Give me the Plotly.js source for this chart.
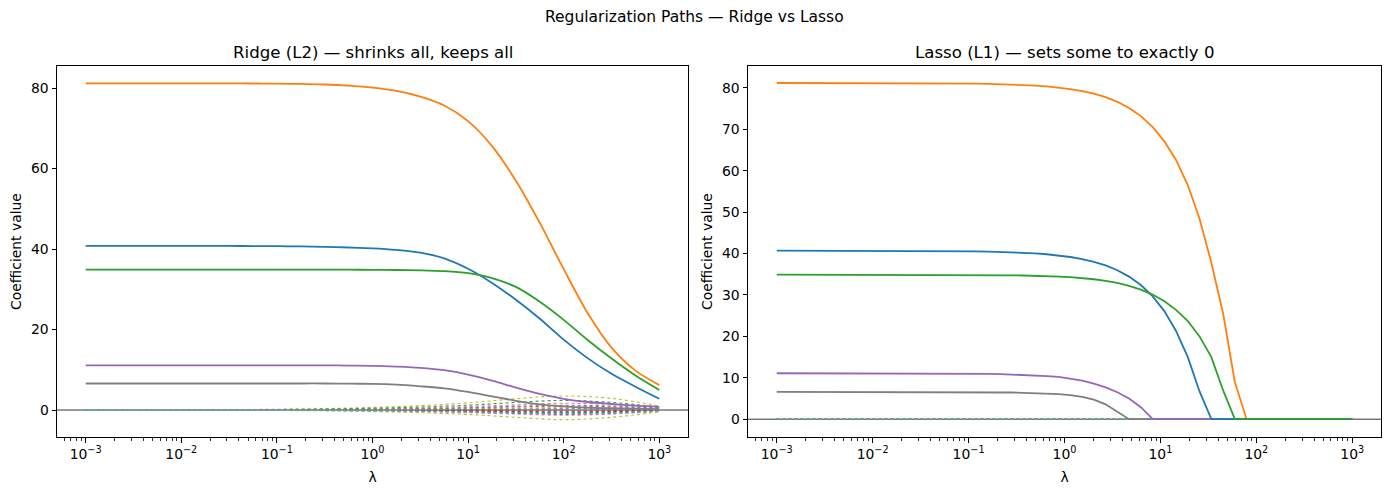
<!DOCTYPE html>
<html>
<head>
<meta charset="utf-8">
<script src="https://cdn.plot.ly/plotly-3.0.1.min.js"></script>
<style>html,body{margin:0;padding:0;background:#fff;}#chart{width:1389px;height:494px;}</style>
</head>
<body>
<div id="chart"></div>
<script>
// ---------- DATA ----------
// Ridge: log10(lambda) grid for the informative coefficient paths
const ridgeExp = [-3,-2.75,-2.5,-2.25,-2,-1.75,-1.5,-1.25,-1,-0.75,-0.5,-0.25,0,0.25,0.5,0.75,1,1.25,1.5,1.75,2,2.25,2.5,2.75,3];
const ridgeF0 = [40.8,40.8,40.8,40.8,40.8,40.79,40.78,40.76,40.72,40.65,40.55,40.4,40.2,39.8,39.1,37.7,35.1,31.6,27.4,22.7,17.5,12.9,9.0,5.8,2.8];
const ridgeF1 = [81.2,81.2,81.2,81.2,81.2,81.2,81.2,81.15,81.1,81.05,80.9,80.6,80.1,79.3,77.9,75.7,71.8,65.6,57.0,46.5,35.0,24.1,15.5,9.8,6.2];
const ridgeF2 = [34.9,34.9,34.9,34.9,34.9,34.9,34.9,34.9,34.9,34.9,34.9,34.88,34.85,34.8,34.7,34.5,34.0,32.8,30.6,26.9,22.4,17.4,12.8,8.6,5.0];
const ridgeF4 = [11.1,11.1,11.1,11.1,11.1,11.1,11.1,11.1,11.1,11.1,11.1,11.05,11.0,10.8,10.5,9.9,8.8,7.3,5.6,4.0,2.8,2.0,1.5,1.1,0.8];
const ridgeF7 = [6.6,6.6,6.6,6.6,6.6,6.6,6.6,6.6,6.6,6.6,6.6,6.55,6.5,6.3,5.9,5.4,4.5,3.4,2.3,1.4,0.9,0.6,0.45,0.35,0.25];

// Ridge: coarser log10(lambda) grid for the non-informative (dotted) coefficients
const ridgeNoiseExp = [-3,-2.5,-2,-1.5,-1,-0.5,0,0.5,1,1.5,2,2.5,3];
const ridgeF3  = [0,0,-0.01,-0.01,-0.02,-0.03,-0.05,-0.09,-0.15,-0.24,-0.3,-0.22,-0.05];
const ridgeF5  = [-0.01,-0.01,-0.02,-0.03,-0.06,-0.11,-0.2,-0.33,-0.55,-0.86,-1.1,-0.85,-0.25];
const ridgeF6  = [0.02,0.02,0.03,0.05,0.1,0.17,0.3,0.5,0.85,1.3,1.7,1.4,0.6];
const ridgeF8  = [0.03,0.04,0.06,0.1,0.2,0.36,0.65,1.1,1.8,2.8,3.5,2.9,1.0];
const ridgeF9  = [0,-0.01,-0.01,-0.02,-0.04,-0.06,-0.11,-0.18,-0.3,-0.47,-0.6,-0.45,-0.12];
const ridgeF10 = [0,0,0.01,0.01,0.02,0.03,0.05,0.09,0.15,0.23,0.3,0.28,0.15];
const ridgeF11 = [0,0.01,0.01,0.02,0.04,0.06,0.11,0.18,0.3,0.46,0.58,0.5,0.25];
const ridgeF12 = [0.02,0.03,0.04,0.07,0.14,0.25,0.45,0.75,1.2,1.9,2.4,1.9,0.7];
const ridgeF13 = [0,-0.01,-0.01,-0.02,-0.03,-0.05,-0.09,-0.15,-0.25,-0.4,-0.5,-0.35,-0.1];
const ridgeF14 = [0.01,0.01,0.02,0.04,0.07,0.12,0.22,0.36,0.6,0.95,1.2,1.0,0.45];
const ridgeF15 = [-0.01,-0.01,-0.02,-0.03,-0.05,-0.08,-0.14,-0.24,-0.4,-0.63,-0.8,-0.6,-0.15];
const ridgeF16 = [-0.01,-0.01,-0.02,-0.04,-0.08,-0.13,-0.23,-0.39,-0.65,-1.0,-1.3,-1.0,-0.3];
const ridgeF17 = [0.01,0.01,0.02,0.03,0.06,0.1,0.18,0.3,0.5,0.78,0.95,0.8,0.35];
const ridgeF18 = [-0.02,-0.02,-0.04,-0.06,-0.12,-0.2,-0.38,-0.65,-1.1,-1.8,-2.4,-1.8,-0.45];
const ridgeF19 = [-0.01,-0.01,-0.02,-0.03,-0.05,-0.09,-0.16,-0.27,-0.45,-0.7,-0.9,-0.7,-0.2];

// Lasso: log10(lambda) grid (50 points)
const lassoExp = [-3.000,-2.878,-2.755,-2.633,-2.510,-2.388,-2.265,-2.143,-2.020,-1.898,
                  -1.776,-1.653,-1.531,-1.408,-1.286,-1.163,-1.041,-0.918,-0.796,-0.673,
                  -0.551,-0.429,-0.306,-0.184,-0.061,0.061,0.184,0.306,0.429,0.551,
                  0.673,0.796,0.918,1.041,1.163,1.286,1.408,1.531,1.653,1.776,
                  1.898,2.020,2.143,2.265,2.388,2.510,2.633,2.755,2.878,3.000];
const lassoF0 = [40.7,40.7,40.7,40.7,40.7,40.7,40.7,40.7,40.7,40.7,
                 40.68,40.67,40.66,40.65,40.63,40.61,40.58,40.54,40.49,40.42,
                 40.33,40.2,40.04,39.83,39.54,39.17,38.67,38.0,37.13,35.97,
                 34.43,32.4,29.7,26.1,21.3,15.0,6.7,0,0,0,
                 0,0,0,0,0,0,0,0,0,0];
const lassoF1 = [81.2,81.2,81.2,81.2,81.2,81.2,81.2,81.2,81.2,81.2,
                 81.18,81.17,81.16,81.15,81.13,81.11,81.08,81.05,81.0,80.93,
                 80.84,80.72,80.57,80.36,80.09,79.73,79.25,78.61,77.77,76.65,
                 75.16,73.2,70.6,67.1,62.6,56.5,48.4,37.8,25.6,9.0,
                 0,0,0,0,0,0,0,0,0,0];
const lassoF2 = [34.9,34.9,34.9,34.9,34.9,34.9,34.9,34.9,34.9,34.9,
                 34.9,34.89,34.89,34.88,34.87,34.86,34.85,34.83,34.81,34.78,
                 34.75,34.7,34.65,34.55,34.45,34.3,34.1,33.8,33.4,32.9,
                 32.2,31.3,30.1,28.5,26.4,23.7,20.0,15.0,7.0,0,
                 0,0,0,0,0,0,0,0,0,0];
const lassoF4 = [11.1,11.1,11.1,11.1,11.1,11.1,11.1,11.1,11.1,11.1,
                 11.1,11.1,11.1,11.1,11.1,11.1,11.05,11.0,10.95,10.9,
                 10.8,10.7,10.6,10.4,10.2,9.8,9.3,8.6,7.7,6.5,
                 5.0,2.9,0.1,0,0,0,0,0,0,0,
                 0,0,0,0,0,0,0,0,0,0];
const lassoF7 = [6.6,6.6,6.6,6.6,6.6,6.6,6.6,6.6,6.6,6.6,
                 6.6,6.6,6.6,6.6,6.6,6.6,6.6,6.6,6.55,6.5,
                 6.45,6.38,6.3,6.2,6.05,5.8,5.4,4.7,3.6,1.8,
                 0,0,0,0,0,0,0,0,0,0,
                 0,0,0,0,0,0,0,0,0,0];
// Lasso: every non-informative coefficient stays at exactly 0
const lassoNoise = [0,0,0,0,0,0,0,0,0,0,0,0,0,0,0,0,0,0,0,0,0,0,0,0,0,
                    0,0,0,0,0,0,0,0,0,0,0,0,0,0,0,0,0,0,0,0,0,0,0,0,0];

const tab10 = ['#1f77b4','#ff7f0e','#2ca02c','#d62728','#9467bd','#8c564b','#e377c2','#7f7f7f','#bcbd22','#17becf'];
const xTickExps = [-3,-2,-1,0,1,2,3];
const minorDecades = [-4,-3,-2,-1,0,1,2,3];
const minorMultipliers = [2,3,4,5,6,7,8,9];

// ---------- BUILD ----------
const pow10 = a => a.map(e => Math.pow(10, e));
const ridgeX = pow10(ridgeExp), ridgeNX = pow10(ridgeNoiseExp), lassoX = pow10(lassoExp);
const minorVals = [];
minorDecades.forEach(d => minorMultipliers.forEach(m => minorVals.push(m * Math.pow(10, d))));

const ridgeNoise = [[3,ridgeF3],[5,ridgeF5],[6,ridgeF6],[8,ridgeF8],[9,ridgeF9],[10,ridgeF10],[11,ridgeF11],
  [12,ridgeF12],[13,ridgeF13],[14,ridgeF14],[15,ridgeF15],[16,ridgeF16],[17,ridgeF17],[18,ridgeF18],[19,ridgeF19]];
const ridgeMain = [[7,ridgeF7],[4,ridgeF4],[0,ridgeF0],[2,ridgeF2],[1,ridgeF1]];
const lassoMain = [[7,lassoF7],[4,lassoF4],[1,lassoF1],[0,lassoF0],[2,lassoF2]];

const traces = [];
ridgeNoise.forEach(([k, v]) => traces.push({x: ridgeNX, y: v, xaxis:'x', yaxis:'y', mode:'lines',
  line:{color: tab10[k%10], width:1.1, dash:'dot', shape:'spline'}, hoverinfo:'skip', showlegend:false}));
ridgeMain.forEach(([k, v]) => traces.push({x: ridgeX, y: v, xaxis:'x', yaxis:'y', mode:'lines',
  line:{color: tab10[k], width:1.8, shape:'spline', smoothing:0.8}, showlegend:false}));
ridgeNoise.forEach(([k]) => traces.push({x: lassoX, y: lassoNoise, xaxis:'x2', yaxis:'y2', mode:'lines',
  line:{color: tab10[k%10], width:1, dash:'dot'}, hoverinfo:'skip', showlegend:false}));
lassoMain.forEach(([k, v]) => traces.push({x: lassoX, y: v, xaxis:'x2', yaxis:'y2', mode:'lines',
  line:{color: tab10[k], width:1.8}, showlegend:false}));

const FAM = 'DejaVu Sans, sans-serif';
const TS = 13.9;
const W = 1389, H = 494;
const xAx = (d0, d1, anchor) => ({
  type:'log', range:[-3.3, 3.3], domain:[d0, d1], anchor: anchor,
  tickmode:'array', tickvals: pow10(xTickExps),
  ticktext: xTickExps.map(e => '10<sup>' + (e < 0 ? '\u2212' + (-e) : e) + '</sup>'),
  showgrid:false, zeroline:false, showline:true, mirror:true, linecolor:'#000', linewidth:1,
  ticks:'outside', ticklen:4.5, tickwidth:1, tickcolor:'#000',
  minor:{tickmode:'array', tickvals: minorVals, ticks:'outside', ticklen:2.5, tickwidth:0.8, tickcolor:'#000', showgrid:false},
  title:{text:'λ', font:{family:FAM, size:TS}, standoff:11},
  tickfont:{family:FAM, size:TS}
});
const yAx = (d0, d1, range, dtick, anchor) => ({
  range: range, domain:[d0, d1], anchor: anchor, dtick: dtick, tick0:0,
  showgrid:false, zeroline:false, showline:true, mirror:true, linecolor:'#000', linewidth:1,
  ticks:'outside', ticklen:4.5, tickwidth:1, tickcolor:'#000',
  title:{text:'Coefficient value', font:{family:FAM, size:TS}, standoff:6},
  tickfont:{family:FAM, size:TS}
});

const yb = 1 - 437/H, yt = 1 - 66/H;
const layout = {
  width: W, height: H, margin:{l:0, r:0, t:0, b:0},
  paper_bgcolor:'#fff', plot_bgcolor:'#fff', font:{family:FAM, size:TS, color:'#000'}, showlegend:false,
  xaxis: xAx(57/W, 688/W, 'y'),
  yaxis: yAx(yb, yt, [-6.7, 85.5], 20, 'x'),
  xaxis2: xAx(748/W, 1381/W, 'y2'),
  yaxis2: yAx(yb, yt, [-4.3, 85.3], 10, 'x2'),
  shapes: [
    {type:'line', xref:'x domain', yref:'y', x0:0, x1:1, y0:0, y1:0, line:{color:'#000', width:0.8}, layer:'below'},
    {type:'line', xref:'x2 domain', yref:'y2', x0:0, x1:1, y0:0, y1:0, line:{color:'#000', width:0.8}, layer:'below'}
  ],
  annotations: [
    {text:'Regularization Paths — Ridge vs Lasso', xref:'paper', yref:'paper', x:0.5, y:1-17/H,
     xanchor:'center', yanchor:'middle', showarrow:false, font:{family:FAM, size:15.5}},
    {text:'Ridge (L2) — shrinks all, keeps all', xref:'paper', yref:'paper', x:372.5/W, y:1-52/H,
     xanchor:'center', yanchor:'middle', showarrow:false, font:{family:FAM, size:16.6}},
    {text:'Lasso (L1) — sets some to exactly 0', xref:'paper', yref:'paper', x:1064.5/W, y:1-52/H,
     xanchor:'center', yanchor:'middle', showarrow:false, font:{family:FAM, size:16.6}}
  ]
};
Plotly.newPlot('chart', traces, layout, {displayModeBar:false, staticPlot:true});
</script>
</body>
</html>
